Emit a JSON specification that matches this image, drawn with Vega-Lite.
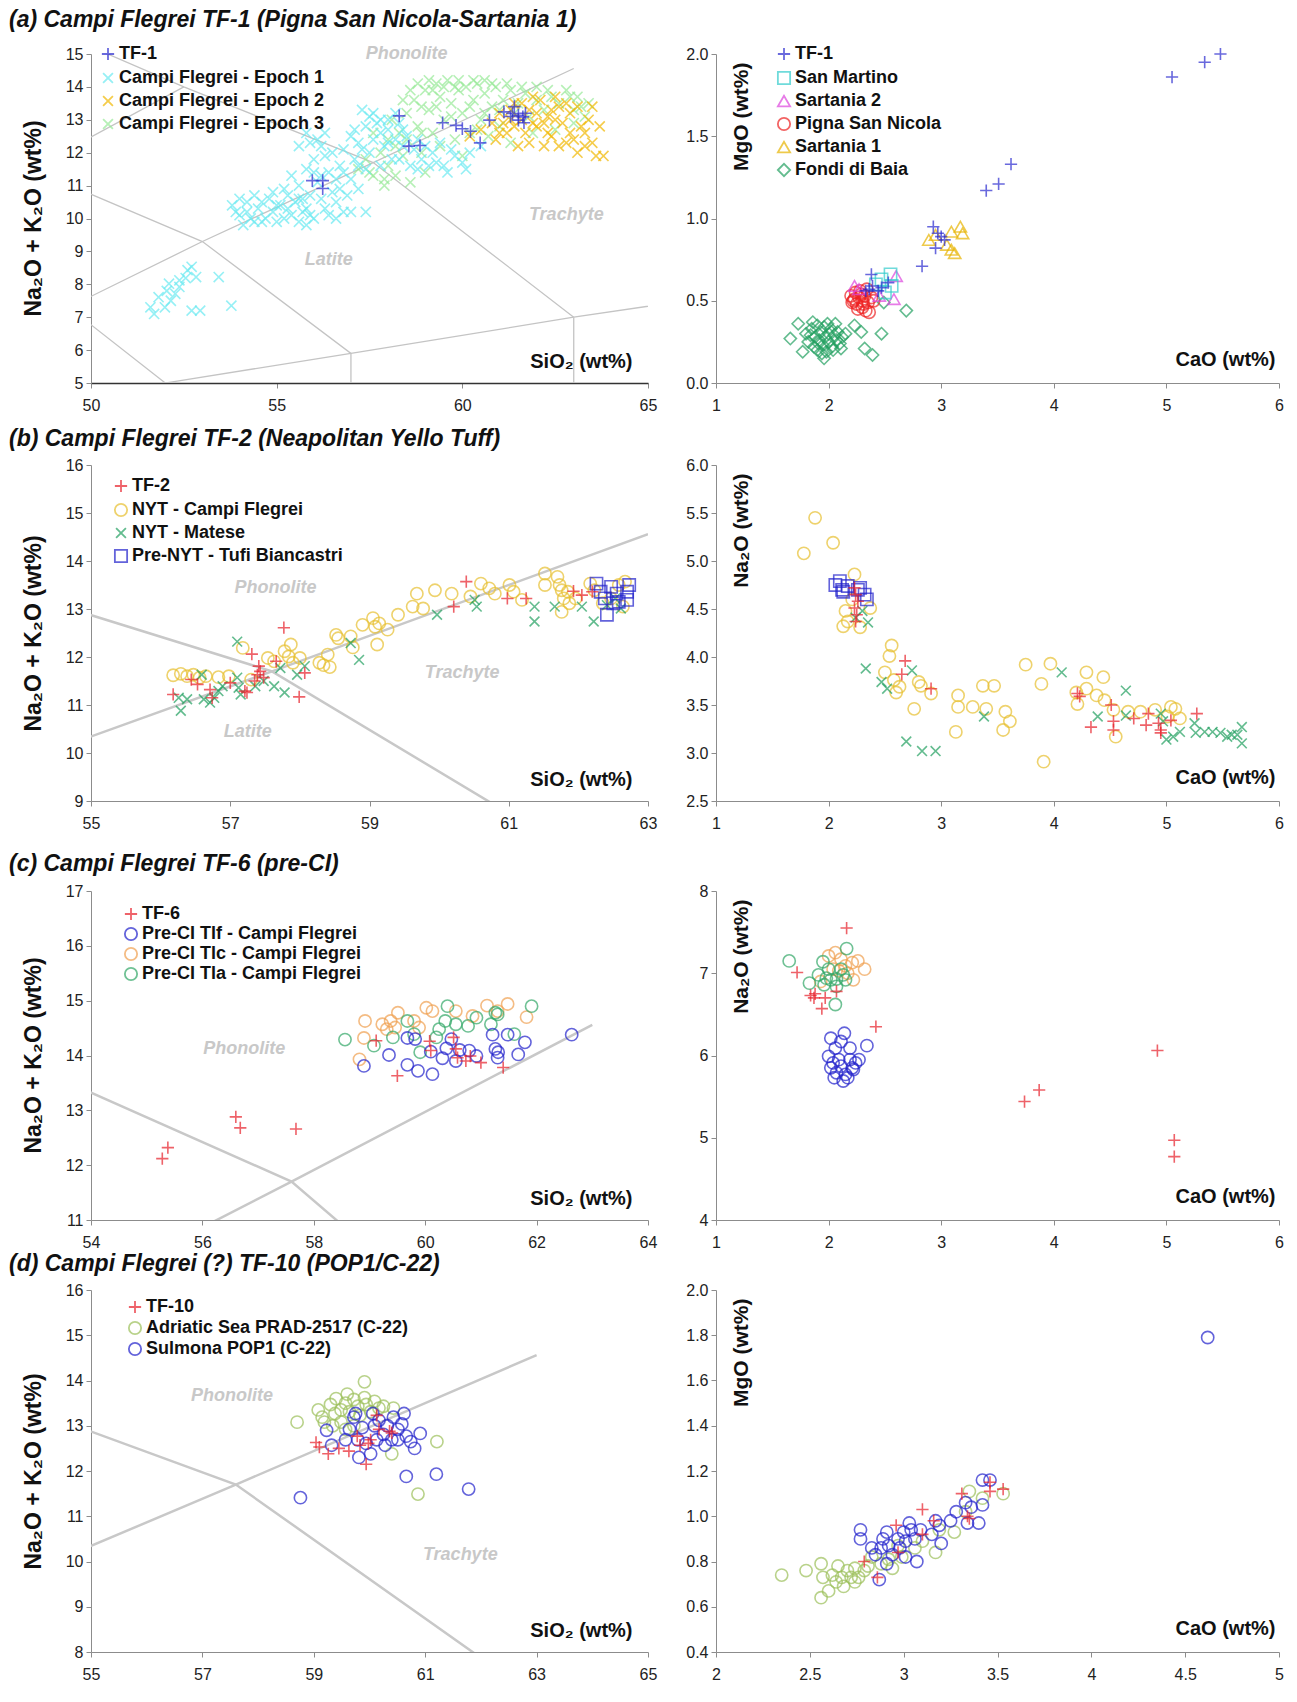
{
"$schema": "https://vega.github.io/schema/vega-lite/v6.json",
"padding": {"left": 9, "top": 8, "right": 5, "bottom": 5},
"config": {
  "font": "Liberation Sans",
  "view": {"stroke": null},
  "axis": {"grid": false, "domainColor": "#8c8c8c", "tickColor": "#8c8c8c", "tickSize": 5, "labelFontSize": 16, "labelColor": "#222", "labelFlush": false, "labelOverlap": false, "labelBound": false, "labelPadding": 3, "titleFontSize": 20, "titleFontWeight": "bold", "titleColor": "#111"},
  "axisX": {"labelPadding": 9},
  "legend": {"labelFontSize": 18, "labelFontWeight": "bold", "labelColor": "#111", "labelLimit": 400, "symbolStrokeWidth": 1.8, "symbolSize": 150, "labelOffset": 2, "padding": 0},
  "title": {"fontSize": 23, "fontWeight": "bold", "fontStyle": "italic", "color": "#111", "anchor": "start", "frame": "group"}
},
"datasets": {
  "tas": [
    {"seg":1,"o":1,"x":41,"y":7},{"seg":1,"o":2,"x":45,"y":9.4},{"seg":1,"o":3,"x":48.4,"y":11.5},{"seg":1,"o":4,"x":52.5,"y":14},
    {"seg":2,"o":1,"x":48.4,"y":16},{"seg":2,"o":2,"x":52.5,"y":14},{"seg":2,"o":3,"x":57.6,"y":11.7},{"seg":2,"o":4,"x":63,"y":7},
    {"seg":3,"o":1,"x":45,"y":5},{"seg":3,"o":2,"x":49.4,"y":7.3},{"seg":3,"o":3,"x":53,"y":9.3},{"seg":3,"o":4,"x":57.6,"y":11.7},{"seg":3,"o":5,"x":63,"y":14.56},
    {"seg":4,"o":1,"x":45,"y":9.4},{"seg":4,"o":2,"x":49.4,"y":7.3},{"seg":4,"o":3,"x":52,"y":5},
    {"seg":5,"o":1,"x":48.4,"y":11.5},{"seg":5,"o":2,"x":53,"y":9.3},{"seg":5,"o":3,"x":57,"y":5.9},{"seg":5,"o":4,"x":57,"y":0},
    {"seg":6,"o":1,"x":52,"y":0},{"seg":6,"o":2,"x":52,"y":5},{"seg":6,"o":3,"x":57,"y":5.9},{"seg":6,"o":4,"x":63,"y":7},{"seg":6,"o":5,"x":69,"y":8},
    {"seg":7,"o":1,"x":63,"y":0},{"seg":7,"o":2,"x":63,"y":7}
  ]
},
"vconcat": [
 {
  "title": {"text": "(a) Campi Flegrei TF-1 (Pigna San Nicola-Sartania 1)", "dx": -82, "offset": 13},
  "spacing": 68, "bounds": "flush",
  "resolve": {"scale": {"x": "independent", "y": "independent", "color": "independent", "shape": "independent"}},
  "hconcat": [
   {
    "width": 557, "height": 329,
    "encoding": {
      "x": {"field": "x", "type": "quantitative", "scale": {"domain": [50, 65], "nice": false, "zero": false}, "axis": {"values": [50,55,60,65], "format": "d", "domainColor": "#333", "domainWidth": 1.5, "title": "SiO₂ (wt%)", "titleX": 541, "titleY": -22, "titleAlign": "right", "titleBaseline": "middle"}},
      "y": {"field": "y", "type": "quantitative", "scale": {"domain": [5, 15], "nice": false, "zero": false}, "axis": {"values": [5,6,7,8,9,10,11,12,13,14,15], "format": "d", "title": "Na₂O + K₂O (wt%)", "titleFontSize": 23, "titleX": -58, "titleY": 164, "titleAngle": 270, "titleAlign": "center", "titleBaseline": "middle"}}
    },
    "layer": [
     {"data": {"name": "tas"}, "mark": {"type": "line", "clip": true, "color": "#c4c4c4", "strokeWidth": 1.3}, "encoding": {"detail": {"field": "seg"}, "order": {"field": "o", "type": "quantitative"}}},
     {"data": {"values": [{"label": "Phonolite", "x": 58.5, "y": 15.0}, {"label": "Trachyte", "x": 62.8, "y": 10.1}, {"label": "Latite", "x": 56.4, "y": 8.75}]},
      "mark": {"type": "text", "color": "#c8c8c8", "fontSize": 18, "fontStyle": "italic", "fontWeight": "bold"}, "encoding": {"text": {"field": "label"}}},
     {"data": {"values": [
{"s":"Campi Flegrei - Epoch 3","x":57.2,"y":11.5},{"s":"Campi Flegrei - Epoch 3","x":57.4,"y":11.8},{"s":"Campi Flegrei - Epoch 3","x":57.6,"y":11.3},{"s":"Campi Flegrei - Epoch 3","x":57.8,"y":12.0},{"s":"Campi Flegrei - Epoch 3","x":58.0,"y":11.6},{"s":"Campi Flegrei - Epoch 3","x":57.9,"y":11.2},{"s":"Campi Flegrei - Epoch 3","x":58.2,"y":12.2},{"s":"Campi Flegrei - Epoch 3","x":58.4,"y":11.9},{"s":"Campi Flegrei - Epoch 3","x":58.3,"y":12.6},{"s":"Campi Flegrei - Epoch 3","x":58.5,"y":13.2},{"s":"Campi Flegrei - Epoch 3","x":58.7,"y":13.6},{"s":"Campi Flegrei - Epoch 3","x":58.8,"y":12.8},{"s":"Campi Flegrei - Epoch 3","x":59.0,"y":13.9},{"s":"Campi Flegrei - Epoch 3","x":59.1,"y":13.3},{"s":"Campi Flegrei - Epoch 3","x":59.2,"y":12.6},{"s":"Campi Flegrei - Epoch 3","x":59.3,"y":14.1},{"s":"Campi Flegrei - Epoch 3","x":59.4,"y":13.7},{"s":"Campi Flegrei - Epoch 3","x":59.5,"y":13.0},{"s":"Campi Flegrei - Epoch 3","x":59.6,"y":14.2},{"s":"Campi Flegrei - Epoch 3","x":59.7,"y":13.5},{"s":"Campi Flegrei - Epoch 3","x":59.8,"y":12.4},{"s":"Campi Flegrei - Epoch 3","x":59.9,"y":13.9},{"s":"Campi Flegrei - Epoch 3","x":60.0,"y":13.2},{"s":"Campi Flegrei - Epoch 3","x":60.1,"y":14.0},{"s":"Campi Flegrei - Epoch 3","x":60.2,"y":12.6},{"s":"Campi Flegrei - Epoch 3","x":60.3,"y":13.6},{"s":"Campi Flegrei - Epoch 3","x":60.4,"y":14.1},{"s":"Campi Flegrei - Epoch 3","x":60.5,"y":13.0},{"s":"Campi Flegrei - Epoch 3","x":60.6,"y":13.8},{"s":"Campi Flegrei - Epoch 3","x":60.7,"y":12.5},{"s":"Campi Flegrei - Epoch 3","x":60.8,"y":13.4},{"s":"Campi Flegrei - Epoch 3","x":60.9,"y":14.0},{"s":"Campi Flegrei - Epoch 3","x":61.0,"y":12.8},{"s":"Campi Flegrei - Epoch 3","x":61.1,"y":13.6},{"s":"Campi Flegrei - Epoch 3","x":61.3,"y":13.9},{"s":"Campi Flegrei - Epoch 3","x":61.5,"y":13.5},{"s":"Campi Flegrei - Epoch 3","x":61.7,"y":13.8},{"s":"Campi Flegrei - Epoch 3","x":62.0,"y":13.6},{"s":"Campi Flegrei - Epoch 3","x":62.3,"y":13.9},{"s":"Campi Flegrei - Epoch 3","x":62.6,"y":13.5},{"s":"Campi Flegrei - Epoch 3","x":62.9,"y":13.7},{"s":"Campi Flegrei - Epoch 3","x":63.2,"y":13.4},{"s":"Campi Flegrei - Epoch 3","x":63.0,"y":12.9},{"s":"Campi Flegrei - Epoch 3","x":62.5,"y":12.7},{"s":"Campi Flegrei - Epoch 3","x":58.9,"y":12.0},{"s":"Campi Flegrei - Epoch 3","x":59.4,"y":12.2},{"s":"Campi Flegrei - Epoch 3","x":60.0,"y":11.9},{"s":"Campi Flegrei - Epoch 3","x":61.3,"y":12.3},{"s":"Campi Flegrei - Epoch 3","x":58.1,"y":13.0},{"s":"Campi Flegrei - Epoch 3","x":57.6,"y":12.6},{"s":"Campi Flegrei - Epoch 3","x":59.0,"y":11.4},{"s":"Campi Flegrei - Epoch 3","x":58.6,"y":11.1},{"s":"Campi Flegrei - Epoch 3","x":59.2,"y":13.9},{"s":"Campi Flegrei - Epoch 3","x":59.8,"y":14.0},{"s":"Campi Flegrei - Epoch 3","x":60.6,"y":14.2},{"s":"Campi Flegrei - Epoch 3","x":58.9,"y":13.4},{"s":"Campi Flegrei - Epoch 3","x":61.8,"y":13.1},{"s":"Campi Flegrei - Epoch 3","x":63.3,"y":13.1},{"s":"Campi Flegrei - Epoch 3","x":57.9,"y":11.0},{"s":"Campi Flegrei - Epoch 3","x":58.4,"y":13.6},
{"s":"Campi Flegrei - Epoch 3","x":58.6,"y":13.9},{"s":"Campi Flegrei - Epoch 3","x":58.8,"y":14.1},{"s":"Campi Flegrei - Epoch 3","x":59.1,"y":14.2},{"s":"Campi Flegrei - Epoch 3","x":59.5,"y":14.0},{"s":"Campi Flegrei - Epoch 3","x":59.9,"y":14.2},{"s":"Campi Flegrei - Epoch 3","x":60.3,"y":14.2},{"s":"Campi Flegrei - Epoch 3","x":60.8,"y":14.1},{"s":"Campi Flegrei - Epoch 3","x":61.2,"y":14.1},{"s":"Campi Flegrei - Epoch 3","x":61.6,"y":14.0},{"s":"Campi Flegrei - Epoch 3","x":62.0,"y":14.0},{"s":"Campi Flegrei - Epoch 3","x":62.4,"y":13.7},{"s":"Campi Flegrei - Epoch 3","x":62.8,"y":13.9},{"s":"Campi Flegrei - Epoch 3","x":63.1,"y":13.7},{"s":"Campi Flegrei - Epoch 3","x":63.4,"y":13.5},{"s":"Campi Flegrei - Epoch 3","x":59.3,"y":13.4},{"s":"Campi Flegrei - Epoch 3","x":59.7,"y":13.1},{"s":"Campi Flegrei - Epoch 3","x":60.2,"y":13.4},{"s":"Campi Flegrei - Epoch 3","x":60.6,"y":13.2},{"s":"Campi Flegrei - Epoch 3","x":61.0,"y":13.3},{"s":"Campi Flegrei - Epoch 3","x":61.4,"y":13.2},{"s":"Campi Flegrei - Epoch 3","x":58.5,"y":12.4},{"s":"Campi Flegrei - Epoch 3","x":58.9,"y":12.6},{"s":"Campi Flegrei - Epoch 3","x":60.4,"y":12.7},{"s":"Campi Flegrei - Epoch 3","x":61.9,"y":12.6},{"s":"Campi Flegrei - Epoch 3","x":62.2,"y":13.3},{"s":"Campi Flegrei - Epoch 3","x":63.0,"y":13.3},{"s":"Campi Flegrei - Epoch 3","x":58.0,"y":12.4},{"s":"Campi Flegrei - Epoch 3","x":57.5,"y":11.4},{"s":"Campi Flegrei - Epoch 3","x":58.2,"y":11.3},
{"s":"Campi Flegrei - Epoch 1","x":51.82,"y":7.61},{"s":"Campi Flegrei - Epoch 1","x":52.1,"y":8.02},{"s":"Campi Flegrei - Epoch 1","x":52.38,"y":8.12},{"s":"Campi Flegrei - Epoch 1","x":52.6,"y":8.43},{"s":"Campi Flegrei - Epoch 1","x":52.71,"y":8.53},{"s":"Campi Flegrei - Epoch 1","x":52.83,"y":8.22},{"s":"Campi Flegrei - Epoch 1","x":52.27,"y":7.71},{"s":"Campi Flegrei - Epoch 1","x":51.99,"y":7.3},{"s":"Campi Flegrei - Epoch 1","x":51.7,"y":7.1},{"s":"Campi Flegrei - Epoch 1","x":52.71,"y":7.2},{"s":"Campi Flegrei - Epoch 1","x":52.94,"y":7.2},{"s":"Campi Flegrei - Epoch 1","x":53.44,"y":8.22},{"s":"Campi Flegrei - Epoch 1","x":53.78,"y":7.35},{"s":"Campi Flegrei - Epoch 1","x":52.38,"y":7.92},{"s":"Campi Flegrei - Epoch 1","x":52.15,"y":7.5},{"s":"Campi Flegrei - Epoch 1","x":52.55,"y":8.19},{"s":"Campi Flegrei - Epoch 1","x":52.04,"y":7.8},{"s":"Campi Flegrei - Epoch 1","x":51.6,"y":7.3},
{"s":"Campi Flegrei - Epoch 1","x":53.8,"y":10.4},{"s":"Campi Flegrei - Epoch 1","x":54.0,"y":10.1},{"s":"Campi Flegrei - Epoch 1","x":54.2,"y":10.5},{"s":"Campi Flegrei - Epoch 1","x":54.3,"y":10.0},{"s":"Campi Flegrei - Epoch 1","x":54.5,"y":10.3},{"s":"Campi Flegrei - Epoch 1","x":54.6,"y":9.9},{"s":"Campi Flegrei - Epoch 1","x":54.8,"y":10.6},{"s":"Campi Flegrei - Epoch 1","x":54.9,"y":10.2},{"s":"Campi Flegrei - Epoch 1","x":55.0,"y":9.9},{"s":"Campi Flegrei - Epoch 1","x":55.1,"y":10.4},{"s":"Campi Flegrei - Epoch 1","x":55.3,"y":10.7},{"s":"Campi Flegrei - Epoch 1","x":55.4,"y":10.1},{"s":"Campi Flegrei - Epoch 1","x":55.5,"y":10.5},{"s":"Campi Flegrei - Epoch 1","x":55.6,"y":9.9},{"s":"Campi Flegrei - Epoch 1","x":55.8,"y":10.3},{"s":"Campi Flegrei - Epoch 1","x":55.9,"y":10.7},{"s":"Campi Flegrei - Epoch 1","x":56.0,"y":10.0},{"s":"Campi Flegrei - Epoch 1","x":54.4,"y":10.7},{"s":"Campi Flegrei - Epoch 1","x":55.2,"y":10.9},{"s":"Campi Flegrei - Epoch 1","x":54.1,"y":9.8},{"s":"Campi Flegrei - Epoch 1","x":53.9,"y":10.2},{"s":"Campi Flegrei - Epoch 1","x":56.3,"y":10.3},{"s":"Campi Flegrei - Epoch 1","x":56.6,"y":10.5},{"s":"Campi Flegrei - Epoch 1","x":56.8,"y":10.2},{"s":"Campi Flegrei - Epoch 1","x":54.7,"y":10.0},{"s":"Campi Flegrei - Epoch 1","x":55.7,"y":10.2},
{"s":"Campi Flegrei - Epoch 1","x":54.2,"y":10.2},{"s":"Campi Flegrei - Epoch 1","x":54.4,"y":9.9},{"s":"Campi Flegrei - Epoch 1","x":54.6,"y":10.5},{"s":"Campi Flegrei - Epoch 1","x":54.9,"y":10.8},{"s":"Campi Flegrei - Epoch 1","x":55.2,"y":10.0},{"s":"Campi Flegrei - Epoch 1","x":55.3,"y":10.3},{"s":"Campi Flegrei - Epoch 1","x":55.6,"y":10.6},{"s":"Campi Flegrei - Epoch 1","x":55.9,"y":10.1},{"s":"Campi Flegrei - Epoch 1","x":56.2,"y":10.6},{"s":"Campi Flegrei - Epoch 1","x":54.0,"y":10.6},{"s":"Campi Flegrei - Epoch 1","x":55.0,"y":10.4},{"s":"Campi Flegrei - Epoch 1","x":55.8,"y":9.8},{"s":"Campi Flegrei - Epoch 1","x":56.4,"y":10.1},{"s":"Campi Flegrei - Epoch 1","x":56.2,"y":11.3},{"s":"Campi Flegrei - Epoch 1","x":56.7,"y":10.9},
{"s":"Campi Flegrei - Epoch 1","x":55.6,"y":11.0},{"s":"Campi Flegrei - Epoch 1","x":55.8,"y":11.5},{"s":"Campi Flegrei - Epoch 1","x":56.0,"y":11.8},{"s":"Campi Flegrei - Epoch 1","x":56.2,"y":12.2},{"s":"Campi Flegrei - Epoch 1","x":56.4,"y":11.4},{"s":"Campi Flegrei - Epoch 1","x":56.5,"y":10.8},{"s":"Campi Flegrei - Epoch 1","x":56.7,"y":11.6},{"s":"Campi Flegrei - Epoch 1","x":56.8,"y":12.1},{"s":"Campi Flegrei - Epoch 1","x":57.0,"y":11.2},{"s":"Campi Flegrei - Epoch 1","x":57.1,"y":11.8},{"s":"Campi Flegrei - Epoch 1","x":56.3,"y":11.9},{"s":"Campi Flegrei - Epoch 1","x":55.9,"y":12.3},{"s":"Campi Flegrei - Epoch 1","x":56.1,"y":12.4},{"s":"Campi Flegrei - Epoch 1","x":56.6,"y":11.2},{"s":"Campi Flegrei - Epoch 1","x":57.2,"y":10.9},{"s":"Campi Flegrei - Epoch 1","x":57.4,"y":11.5},{"s":"Campi Flegrei - Epoch 1","x":55.7,"y":10.6},{"s":"Campi Flegrei - Epoch 1","x":56.9,"y":10.7},{"s":"Campi Flegrei - Epoch 1","x":56.1,"y":11.1},{"s":"Campi Flegrei - Epoch 1","x":55.4,"y":11.3},
{"s":"Campi Flegrei - Epoch 1","x":56.0,"y":11.4},{"s":"Campi Flegrei - Epoch 1","x":56.3,"y":12.6},{"s":"Campi Flegrei - Epoch 1","x":56.5,"y":12.0},{"s":"Campi Flegrei - Epoch 1","x":56.8,"y":11.4},{"s":"Campi Flegrei - Epoch 1","x":57.0,"y":12.5},{"s":"Campi Flegrei - Epoch 1","x":57.2,"y":11.6},{"s":"Campi Flegrei - Epoch 1","x":57.3,"y":12.1},{"s":"Campi Flegrei - Epoch 1","x":57.6,"y":12.4},{"s":"Campi Flegrei - Epoch 1","x":57.8,"y":13.0},{"s":"Campi Flegrei - Epoch 1","x":58.0,"y":12.7},{"s":"Campi Flegrei - Epoch 1","x":58.2,"y":13.2},{"s":"Campi Flegrei - Epoch 1","x":58.4,"y":12.2},{"s":"Campi Flegrei - Epoch 1","x":57.5,"y":13.1},{"s":"Campi Flegrei - Epoch 1","x":57.8,"y":11.6},{"s":"Campi Flegrei - Epoch 1","x":58.3,"y":11.8},{"s":"Campi Flegrei - Epoch 1","x":58.4,"y":12.7},{"s":"Campi Flegrei - Epoch 1","x":58.8,"y":12.4},{"s":"Campi Flegrei - Epoch 1","x":59.0,"y":12.2},{"s":"Campi Flegrei - Epoch 1","x":59.3,"y":11.7},{"s":"Campi Flegrei - Epoch 1","x":59.7,"y":12.1},{"s":"Campi Flegrei - Epoch 1","x":60.1,"y":11.5},{"s":"Campi Flegrei - Epoch 1","x":59.1,"y":11.6},{"s":"Campi Flegrei - Epoch 1","x":57.4,"y":10.2},{"s":"Campi Flegrei - Epoch 1","x":57.0,"y":10.2},{"s":"Campi Flegrei - Epoch 1","x":56.6,"y":10.0},{"s":"Campi Flegrei - Epoch 1","x":55.6,"y":12.2},{"s":"Campi Flegrei - Epoch 1","x":55.8,"y":12.6},
{"s":"Campi Flegrei - Epoch 1","x":57.2,"y":12.3},{"s":"Campi Flegrei - Epoch 1","x":57.4,"y":12.8},{"s":"Campi Flegrei - Epoch 1","x":57.6,"y":13.2},{"s":"Campi Flegrei - Epoch 1","x":57.8,"y":12.6},{"s":"Campi Flegrei - Epoch 1","x":58.0,"y":13.0},{"s":"Campi Flegrei - Epoch 1","x":58.2,"y":12.4},{"s":"Campi Flegrei - Epoch 1","x":58.3,"y":12.9},{"s":"Campi Flegrei - Epoch 1","x":57.5,"y":12.0},{"s":"Campi Flegrei - Epoch 1","x":58.5,"y":12.5},{"s":"Campi Flegrei - Epoch 1","x":58.7,"y":12.1},{"s":"Campi Flegrei - Epoch 1","x":57.3,"y":13.3},{"s":"Campi Flegrei - Epoch 1","x":57.9,"y":12.2},{"s":"Campi Flegrei - Epoch 1","x":58.1,"y":11.8},{"s":"Campi Flegrei - Epoch 1","x":58.6,"y":11.6},{"s":"Campi Flegrei - Epoch 1","x":57.7,"y":12.9},{"s":"Campi Flegrei - Epoch 1","x":58.0,"y":12.3},{"s":"Campi Flegrei - Epoch 1","x":57.1,"y":12.7},
{"s":"Campi Flegrei - Epoch 1","x":58.9,"y":11.8},{"s":"Campi Flegrei - Epoch 1","x":59.2,"y":12.0},{"s":"Campi Flegrei - Epoch 1","x":59.5,"y":11.6},{"s":"Campi Flegrei - Epoch 1","x":59.8,"y":11.9},{"s":"Campi Flegrei - Epoch 1","x":60.0,"y":11.7},{"s":"Campi Flegrei - Epoch 1","x":59.4,"y":12.3},{"s":"Campi Flegrei - Epoch 1","x":58.8,"y":11.5},{"s":"Campi Flegrei - Epoch 1","x":60.2,"y":12.0},{"s":"Campi Flegrei - Epoch 1","x":59.6,"y":11.4},{"s":"Campi Flegrei - Epoch 1","x":60.5,"y":12.2},
{"s":"Campi Flegrei - Epoch 2","x":60.8,"y":12.9},{"s":"Campi Flegrei - Epoch 2","x":61.0,"y":13.2},{"s":"Campi Flegrei - Epoch 2","x":61.2,"y":12.6},{"s":"Campi Flegrei - Epoch 2","x":61.4,"y":13.5},{"s":"Campi Flegrei - Epoch 2","x":61.6,"y":13.0},{"s":"Campi Flegrei - Epoch 2","x":61.8,"y":13.3},{"s":"Campi Flegrei - Epoch 2","x":62.0,"y":12.8},{"s":"Campi Flegrei - Epoch 2","x":62.1,"y":13.6},{"s":"Campi Flegrei - Epoch 2","x":62.3,"y":13.1},{"s":"Campi Flegrei - Epoch 2","x":62.4,"y":12.5},{"s":"Campi Flegrei - Epoch 2","x":62.6,"y":13.4},{"s":"Campi Flegrei - Epoch 2","x":62.7,"y":12.9},{"s":"Campi Flegrei - Epoch 2","x":62.9,"y":13.2},{"s":"Campi Flegrei - Epoch 2","x":63.0,"y":12.4},{"s":"Campi Flegrei - Epoch 2","x":63.1,"y":12.0},{"s":"Campi Flegrei - Epoch 2","x":63.3,"y":12.6},{"s":"Campi Flegrei - Epoch 2","x":63.4,"y":13.0},{"s":"Campi Flegrei - Epoch 2","x":63.6,"y":11.9},{"s":"Campi Flegrei - Epoch 2","x":63.8,"y":11.9},{"s":"Campi Flegrei - Epoch 2","x":62.2,"y":12.2},{"s":"Campi Flegrei - Epoch 2","x":61.5,"y":12.2},{"s":"Campi Flegrei - Epoch 2","x":61.9,"y":13.7},{"s":"Campi Flegrei - Epoch 2","x":62.5,"y":13.7},{"s":"Campi Flegrei - Epoch 2","x":60.5,"y":12.7},{"s":"Campi Flegrei - Epoch 2","x":60.2,"y":12.5},{"s":"Campi Flegrei - Epoch 2","x":63.5,"y":13.4},{"s":"Campi Flegrei - Epoch 2","x":62.8,"y":12.3},{"s":"Campi Flegrei - Epoch 2","x":61.1,"y":12.9},{"s":"Campi Flegrei - Epoch 2","x":61.7,"y":12.6},{"s":"Campi Flegrei - Epoch 2","x":62.4,"y":13.3},{"s":"Campi Flegrei - Epoch 2","x":61.3,"y":13.0},{"s":"Campi Flegrei - Epoch 2","x":62.0,"y":13.2},
{"s":"Campi Flegrei - Epoch 2","x":61.0,"y":12.6},{"s":"Campi Flegrei - Epoch 2","x":61.3,"y":13.3},{"s":"Campi Flegrei - Epoch 2","x":61.6,"y":13.5},{"s":"Campi Flegrei - Epoch 2","x":61.9,"y":12.9},{"s":"Campi Flegrei - Epoch 2","x":62.2,"y":12.9},{"s":"Campi Flegrei - Epoch 2","x":62.5,"y":13.0},{"s":"Campi Flegrei - Epoch 2","x":62.8,"y":13.5},{"s":"Campi Flegrei - Epoch 2","x":63.1,"y":13.4},{"s":"Campi Flegrei - Epoch 2","x":63.2,"y":12.8},{"s":"Campi Flegrei - Epoch 2","x":63.5,"y":12.3},{"s":"Campi Flegrei - Epoch 2","x":63.7,"y":12.8},{"s":"Campi Flegrei - Epoch 2","x":62.9,"y":12.6},{"s":"Campi Flegrei - Epoch 2","x":62.6,"y":12.2},{"s":"Campi Flegrei - Epoch 2","x":62.3,"y":12.6},{"s":"Campi Flegrei - Epoch 2","x":61.8,"y":12.3},{"s":"Campi Flegrei - Epoch 2","x":61.4,"y":12.8},{"s":"Campi Flegrei - Epoch 2","x":60.9,"y":12.4},{"s":"Campi Flegrei - Epoch 2","x":63.3,"y":12.2},
{"s":"TF-1","x":55.96,"y":11.15},{"s":"TF-1","x":56.24,"y":11.15},{"s":"TF-1","x":56.24,"y":10.91},{"s":"TF-1","x":58.3,"y":13.12},{"s":"TF-1","x":58.56,"y":12.2},{"s":"TF-1","x":58.86,"y":12.22},{"s":"TF-1","x":59.47,"y":12.91},{"s":"TF-1","x":59.83,"y":12.83},{"s":"TF-1","x":60.0,"y":12.73},{"s":"TF-1","x":60.22,"y":12.65},{"s":"TF-1","x":60.48,"y":12.3},{"s":"TF-1","x":60.73,"y":12.99},{"s":"TF-1","x":61.12,"y":13.24},{"s":"TF-1","x":61.35,"y":13.19},{"s":"TF-1","x":61.51,"y":13.14},{"s":"TF-1","x":61.63,"y":13.09},{"s":"TF-1","x":61.51,"y":12.99},{"s":"TF-1","x":61.66,"y":12.91},{"s":"TF-1","x":61.4,"y":13.4},{"s":"TF-1","x":61.3,"y":13.1},{"s":"TF-1","x":61.7,"y":13.2}
      ]},
      "mark": {"type": "point", "filled": false, "strokeWidth": 1.6, "size": 160},
      "encoding": {
        "color": {"field": "s", "type": "nominal", "scale": {"domain": ["TF-1","Campi Flegrei - Epoch 1","Campi Flegrei - Epoch 2","Campi Flegrei - Epoch 3"], "range": ["#2a2ad0","#6aeaf2","#f2b800","#98ea98"]}, "legend": {"title": null, "orient": "none", "legendX": 8, "legendY": -9, "rowPadding": 5}},
        "shape": {"field": "s", "type": "nominal", "scale": {"domain": ["TF-1","Campi Flegrei - Epoch 1","Campi Flegrei - Epoch 2","Campi Flegrei - Epoch 3"], "range": ["M-1,0L1,0M0,-1L0,1","M-0.8,-0.8L0.8,0.8M-0.8,0.8L0.8,-0.8","M-0.8,-0.8L0.8,0.8M-0.8,0.8L0.8,-0.8","M-0.8,-0.8L0.8,0.8M-0.8,0.8L0.8,-0.8"]}, "legend": {"title": null, "orient": "none", "legendX": 8, "legendY": -9, "rowPadding": 5}}
      }
     }
    ]
   },
   {
    "width": 563, "height": 329,
    "encoding": {
      "x": {"field": "x", "type": "quantitative", "scale": {"domain": [1, 6], "nice": false, "zero": false}, "axis": {"values": [1,2,3,4,5,6], "format": "d", "title": "CaO (wt%)", "titleX": 559, "titleY": -24, "titleAlign": "right", "titleBaseline": "middle"}},
      "y": {"field": "y", "type": "quantitative", "scale": {"domain": [0, 2], "nice": false, "zero": false}, "axis": {"values": [0,0.5,1,1.5,2], "format": ".1f", "title": "MgO (wt%)", "titleFontSize": 21, "titleX": 25, "titleY": 8, "titleAngle": 270, "titleAlign": "right", "titleBaseline": "middle"}}
    },
    "layer": [
     {"data": {"values": [
{"s":"Fondi di Baia","x":1.8,"y":0.3},{"s":"Fondi di Baia","x":1.82,"y":0.25},{"s":"Fondi di Baia","x":1.85,"y":0.33},{"s":"Fondi di Baia","x":1.87,"y":0.22},{"s":"Fondi di Baia","x":1.88,"y":0.28},{"s":"Fondi di Baia","x":1.9,"y":0.35},{"s":"Fondi di Baia","x":1.9,"y":0.2},{"s":"Fondi di Baia","x":1.92,"y":0.26},{"s":"Fondi di Baia","x":1.93,"y":0.31},{"s":"Fondi di Baia","x":1.95,"y":0.23},{"s":"Fondi di Baia","x":1.96,"y":0.34},{"s":"Fondi di Baia","x":1.97,"y":0.28},{"s":"Fondi di Baia","x":1.98,"y":0.19},{"s":"Fondi di Baia","x":2.0,"y":0.3},{"s":"Fondi di Baia","x":2.0,"y":0.25},{"s":"Fondi di Baia","x":2.02,"y":0.33},{"s":"Fondi di Baia","x":2.03,"y":0.22},{"s":"Fondi di Baia","x":2.05,"y":0.29},{"s":"Fondi di Baia","x":2.06,"y":0.36},{"s":"Fondi di Baia","x":2.07,"y":0.26},{"s":"Fondi di Baia","x":2.08,"y":0.31},{"s":"Fondi di Baia","x":2.1,"y":0.24},{"s":"Fondi di Baia","x":2.12,"y":0.28},{"s":"Fondi di Baia","x":1.86,"y":0.37},{"s":"Fondi di Baia","x":1.94,"y":0.18},{"s":"Fondi di Baia","x":2.04,"y":0.2},{"s":"Fondi di Baia","x":1.84,"y":0.29},{"s":"Fondi di Baia","x":2.15,"y":0.3},{"s":"Fondi di Baia","x":2.11,"y":0.21},{"s":"Fondi di Baia","x":1.91,"y":0.24},{"s":"Fondi di Baia","x":1.99,"y":0.36},{"s":"Fondi di Baia","x":1.66,"y":0.27},{"s":"Fondi di Baia","x":1.73,"y":0.36},{"s":"Fondi di Baia","x":1.77,"y":0.19},{"s":"Fondi di Baia","x":1.96,"y":0.15},{"s":"Fondi di Baia","x":2.23,"y":0.35},{"s":"Fondi di Baia","x":2.29,"y":0.31},{"s":"Fondi di Baia","x":2.47,"y":0.3},{"s":"Fondi di Baia","x":2.32,"y":0.21},{"s":"Fondi di Baia","x":2.39,"y":0.17},{"s":"Fondi di Baia","x":2.69,"y":0.44},{"s":"Fondi di Baia","x":2.49,"y":0.49},
{"s":"Sartania 1","x":3.17,"y":0.95},{"s":"Sartania 1","x":3.19,"y":0.91},{"s":"Sartania 1","x":3.09,"y":0.92},{"s":"Sartania 1","x":2.89,"y":0.87},{"s":"Sartania 1","x":3.09,"y":0.81},{"s":"Sartania 1","x":3.12,"y":0.79},{"s":"Sartania 1","x":2.95,"y":0.9},{"s":"Sartania 1","x":3.05,"y":0.84},
{"s":"Pigna San Nicola","x":2.2,"y":0.53},{"s":"Pigna San Nicola","x":2.22,"y":0.5},{"s":"Pigna San Nicola","x":2.24,"y":0.55},{"s":"Pigna San Nicola","x":2.25,"y":0.48},{"s":"Pigna San Nicola","x":2.27,"y":0.52},{"s":"Pigna San Nicola","x":2.28,"y":0.56},{"s":"Pigna San Nicola","x":2.3,"y":0.5},{"s":"Pigna San Nicola","x":2.3,"y":0.46},{"s":"Pigna San Nicola","x":2.32,"y":0.53},{"s":"Pigna San Nicola","x":2.33,"y":0.44},{"s":"Pigna San Nicola","x":2.35,"y":0.49},{"s":"Pigna San Nicola","x":2.36,"y":0.43},{"s":"Pigna San Nicola","x":2.38,"y":0.52},{"s":"Pigna San Nicola","x":2.26,"y":0.45},{"s":"Pigna San Nicola","x":2.21,"y":0.49},{"s":"Pigna San Nicola","x":2.29,"y":0.54},{"s":"Pigna San Nicola","x":2.4,"y":0.5},{"s":"Pigna San Nicola","x":2.34,"y":0.57},{"s":"Pigna San Nicola","x":2.31,"y":0.48},{"s":"Pigna San Nicola","x":2.23,"y":0.51},
{"s":"Sartania 2","x":2.6,"y":0.65},{"s":"Sartania 2","x":2.58,"y":0.51},{"s":"Sartania 2","x":2.23,"y":0.59},{"s":"Sartania 2","x":2.27,"y":0.57},{"s":"Sartania 2","x":2.45,"y":0.53},
{"s":"San Martino","x":2.55,"y":0.66},{"s":"San Martino","x":2.56,"y":0.59},{"s":"San Martino","x":2.5,"y":0.55},{"s":"San Martino","x":2.42,"y":0.6},{"s":"San Martino","x":2.47,"y":0.63},
{"s":"TF-1","x":5.05,"y":1.86},{"s":"TF-1","x":5.34,"y":1.95},{"s":"TF-1","x":5.48,"y":2.0},{"s":"TF-1","x":3.62,"y":1.33},{"s":"TF-1","x":3.4,"y":1.17},{"s":"TF-1","x":3.51,"y":1.21},{"s":"TF-1","x":2.83,"y":0.71},{"s":"TF-1","x":2.93,"y":0.95},{"s":"TF-1","x":2.95,"y":0.82},{"s":"TF-1","x":3.0,"y":0.89},{"s":"TF-1","x":3.03,"y":0.87},{"s":"TF-1","x":2.97,"y":0.91},{"s":"TF-1","x":2.38,"y":0.66},{"s":"TF-1","x":2.39,"y":0.59},{"s":"TF-1","x":2.44,"y":0.56},{"s":"TF-1","x":2.53,"y":0.61},{"s":"TF-1","x":2.33,"y":0.56},{"s":"TF-1","x":2.47,"y":0.58},{"s":"TF-1","x":2.36,"y":0.57}
      ]},
      "mark": {"type": "point", "filled": false, "strokeWidth": 1.6, "size": 150},
      "encoding": {
        "color": {"field": "s", "type": "nominal", "scale": {"domain": ["TF-1","San Martino","Sartania 2","Pigna San Nicola","Sartania 1","Fondi di Baia"], "range": ["#2a2ad0","#33cccc","#dd44dd","#ee2222","#e8b400","#22a060"]}, "legend": {"title": null, "orient": "none", "legendX": 59, "legendY": -9, "rowPadding": 4}},
        "shape": {"field": "s", "type": "nominal", "scale": {"domain": ["TF-1","San Martino","Sartania 2","Pigna San Nicola","Sartania 1","Fondi di Baia"], "range": ["M-1,0L1,0M0,-1L0,1","square","triangle-up","circle","triangle-up","diamond"]}, "legend": {"title": null, "orient": "none", "legendX": 59, "legendY": -9, "rowPadding": 4}}
      }
     }
    ]
   }
  ]
 },
 {
  "spacing": 22,
  "resolve": {"scale": {"x": "independent", "y": "independent", "color": "independent", "shape": "independent"}},
  "vconcat": [
 {
  "title": {"text": "(b) Campi Flegrei TF-2 (Neapolitan Yello Tuff)", "dx": -82, "offset": 6},
  "spacing": 68, "bounds": "flush",
  "resolve": {"scale": {"x": "independent", "y": "independent", "color": "independent", "shape": "independent"}},
  "hconcat": [
   {
    "width": 557, "height": 336,
    "encoding": {
      "x": {"field": "x", "type": "quantitative", "scale": {"domain": [55, 63], "nice": false, "zero": false}, "axis": {"values": [55,57,59,61,63], "format": "d", "title": "SiO₂ (wt%)", "titleX": 541, "titleY": -22, "titleAlign": "right", "titleBaseline": "middle"}},
      "y": {"field": "y", "type": "quantitative", "scale": {"domain": [9, 16], "nice": false, "zero": false}, "axis": {"values": [9,10,11,12,13,14,15,16], "format": "d", "title": "Na₂O + K₂O (wt%)", "titleFontSize": 23, "titleX": -58, "titleY": 168, "titleAngle": 270, "titleAlign": "center", "titleBaseline": "middle"}}
    },
    "layer": [
     {"data": {"name": "tas"}, "mark": {"type": "line", "clip": true, "color": "#c8c8c8", "strokeWidth": 2.5}, "encoding": {"detail": {"field": "seg"}, "order": {"field": "o", "type": "quantitative"}}},
     {"data": {"values": [{"label": "Phonolite", "x": 57.65, "y": 13.43}, {"label": "Trachyte", "x": 60.33, "y": 11.67}, {"label": "Latite", "x": 57.25, "y": 10.43}]},
      "mark": {"type": "text", "color": "#c8c8c8", "fontSize": 18, "fontStyle": "italic", "fontWeight": "bold"}, "encoding": {"text": {"field": "label"}}},
     {"data": {"values": [
{"s":"NYT - Campi Flegrei","x":56.18,"y":11.62},{"s":"NYT - Campi Flegrei","x":56.29,"y":11.65},{"s":"NYT - Campi Flegrei","x":56.38,"y":11.6},{"s":"NYT - Campi Flegrei","x":56.47,"y":11.63},{"s":"NYT - Campi Flegrei","x":56.56,"y":11.57},{"s":"NYT - Campi Flegrei","x":56.65,"y":11.6},{"s":"NYT - Campi Flegrei","x":56.83,"y":11.58},{"s":"NYT - Campi Flegrei","x":56.98,"y":11.6},{"s":"NYT - Campi Flegrei","x":57.18,"y":12.19},{"s":"NYT - Campi Flegrei","x":57.3,"y":11.53},{"s":"NYT - Campi Flegrei","x":57.54,"y":11.98},{"s":"NYT - Campi Flegrei","x":57.63,"y":11.91},{"s":"NYT - Campi Flegrei","x":57.78,"y":12.12},{"s":"NYT - Campi Flegrei","x":57.84,"y":12.01},{"s":"NYT - Campi Flegrei","x":57.87,"y":12.26},{"s":"NYT - Campi Flegrei","x":57.9,"y":11.88},{"s":"NYT - Campi Flegrei","x":58.0,"y":11.98},{"s":"NYT - Campi Flegrei","x":58.28,"y":11.88},{"s":"NYT - Campi Flegrei","x":58.34,"y":11.83},{"s":"NYT - Campi Flegrei","x":58.4,"y":12.05},{"s":"NYT - Campi Flegrei","x":58.43,"y":11.79},{"s":"NYT - Campi Flegrei","x":58.52,"y":12.46},{"s":"NYT - Campi Flegrei","x":58.55,"y":12.39},{"s":"NYT - Campi Flegrei","x":58.73,"y":12.43},{"s":"NYT - Campi Flegrei","x":58.76,"y":12.2},{"s":"NYT - Campi Flegrei","x":58.9,"y":12.67},{"s":"NYT - Campi Flegrei","x":59.05,"y":12.81},{"s":"NYT - Campi Flegrei","x":59.08,"y":12.63},{"s":"NYT - Campi Flegrei","x":59.11,"y":12.26},{"s":"NYT - Campi Flegrei","x":59.14,"y":12.7},{"s":"NYT - Campi Flegrei","x":59.26,"y":12.57},{"s":"NYT - Campi Flegrei","x":59.41,"y":12.88},{"s":"NYT - Campi Flegrei","x":59.62,"y":13.05},{"s":"NYT - Campi Flegrei","x":59.68,"y":13.32},{"s":"NYT - Campi Flegrei","x":59.77,"y":13.01},{"s":"NYT - Campi Flegrei","x":59.94,"y":13.39},{"s":"NYT - Campi Flegrei","x":60.18,"y":13.32},{"s":"NYT - Campi Flegrei","x":60.45,"y":13.26},{"s":"NYT - Campi Flegrei","x":60.6,"y":13.53},{"s":"NYT - Campi Flegrei","x":60.72,"y":13.43},{"s":"NYT - Campi Flegrei","x":60.8,"y":13.32},{"s":"NYT - Campi Flegrei","x":61.01,"y":13.5},{"s":"NYT - Campi Flegrei","x":61.07,"y":13.36},{"s":"NYT - Campi Flegrei","x":61.19,"y":13.19},{"s":"NYT - Campi Flegrei","x":61.52,"y":13.5},{"s":"NYT - Campi Flegrei","x":61.52,"y":13.74},{"s":"NYT - Campi Flegrei","x":61.7,"y":13.67},{"s":"NYT - Campi Flegrei","x":61.73,"y":13.5},{"s":"NYT - Campi Flegrei","x":61.76,"y":13.39},{"s":"NYT - Campi Flegrei","x":61.79,"y":13.22},{"s":"NYT - Campi Flegrei","x":61.76,"y":12.94},{"s":"NYT - Campi Flegrei","x":61.85,"y":13.36},{"s":"NYT - Campi Flegrei","x":61.87,"y":13.12},{"s":"NYT - Campi Flegrei","x":61.96,"y":13.22},{"s":"NYT - Campi Flegrei","x":62.17,"y":13.53},{"s":"NYT - Campi Flegrei","x":62.23,"y":13.39},{"s":"NYT - Campi Flegrei","x":62.35,"y":13.12},{"s":"NYT - Campi Flegrei","x":62.47,"y":13.22},{"s":"NYT - Campi Flegrei","x":62.58,"y":13.5},{"s":"NYT - Campi Flegrei","x":62.67,"y":13.57},{"s":"NYT - Campi Flegrei","x":62.64,"y":13.05},
{"s":"NYT - Matese","x":56.26,"y":11.15},{"s":"NYT - Matese","x":56.38,"y":11.12},{"s":"NYT - Matese","x":56.29,"y":10.88},{"s":"NYT - Matese","x":56.59,"y":11.63},{"s":"NYT - Matese","x":56.62,"y":11.12},{"s":"NYT - Matese","x":56.71,"y":11.05},{"s":"NYT - Matese","x":56.77,"y":11.15},{"s":"NYT - Matese","x":56.83,"y":11.29},{"s":"NYT - Matese","x":56.89,"y":11.39},{"s":"NYT - Matese","x":57.1,"y":12.32},{"s":"NYT - Matese","x":57.1,"y":11.57},{"s":"NYT - Matese","x":57.12,"y":11.36},{"s":"NYT - Matese","x":57.15,"y":11.22},{"s":"NYT - Matese","x":57.36,"y":11.39},{"s":"NYT - Matese","x":57.48,"y":11.5},{"s":"NYT - Matese","x":57.63,"y":11.39},{"s":"NYT - Matese","x":57.78,"y":11.26},{"s":"NYT - Matese","x":57.72,"y":11.77},{"s":"NYT - Matese","x":57.96,"y":11.63},{"s":"NYT - Matese","x":58.07,"y":11.81},{"s":"NYT - Matese","x":58.73,"y":12.29},{"s":"NYT - Matese","x":58.85,"y":11.94},{"s":"NYT - Matese","x":59.97,"y":12.88},{"s":"NYT - Matese","x":60.51,"y":13.19},{"s":"NYT - Matese","x":60.54,"y":13.05},{"s":"NYT - Matese","x":61.37,"y":13.05},{"s":"NYT - Matese","x":61.37,"y":12.74},{"s":"NYT - Matese","x":61.66,"y":13.05},{"s":"NYT - Matese","x":62.05,"y":13.05},{"s":"NYT - Matese","x":62.22,"y":12.74},{"s":"NYT - Matese","x":62.41,"y":13.08},{"s":"NYT - Matese","x":62.53,"y":13.22},{"s":"NYT - Matese","x":62.61,"y":13.01},
{"s":"Pre-NYT - Tufi Biancastri","x":62.26,"y":13.53},{"s":"Pre-NYT - Tufi Biancastri","x":62.32,"y":13.36},{"s":"Pre-NYT - Tufi Biancastri","x":62.38,"y":13.22},{"s":"Pre-NYT - Tufi Biancastri","x":62.41,"y":12.88},{"s":"Pre-NYT - Tufi Biancastri","x":62.47,"y":13.46},{"s":"Pre-NYT - Tufi Biancastri","x":62.55,"y":13.32},{"s":"Pre-NYT - Tufi Biancastri","x":62.58,"y":13.15},{"s":"Pre-NYT - Tufi Biancastri","x":62.7,"y":13.36},{"s":"Pre-NYT - Tufi Biancastri","x":62.7,"y":13.19},{"s":"Pre-NYT - Tufi Biancastri","x":62.73,"y":13.5},{"s":"Pre-NYT - Tufi Biancastri","x":62.5,"y":13.12},
{"s":"TF-2","x":56.18,"y":11.22},{"s":"TF-2","x":56.44,"y":11.53},{"s":"TF-2","x":56.53,"y":11.43},{"s":"TF-2","x":56.71,"y":11.32},{"s":"TF-2","x":56.74,"y":11.15},{"s":"TF-2","x":57.0,"y":11.46},{"s":"TF-2","x":57.21,"y":11.29},{"s":"TF-2","x":57.24,"y":11.26},{"s":"TF-2","x":57.31,"y":12.06},{"s":"TF-2","x":57.35,"y":11.5},{"s":"TF-2","x":57.39,"y":11.63},{"s":"TF-2","x":57.41,"y":11.81},{"s":"TF-2","x":57.43,"y":11.7},{"s":"TF-2","x":57.48,"y":11.57},{"s":"TF-2","x":57.66,"y":11.91},{"s":"TF-2","x":57.77,"y":12.61},{"s":"TF-2","x":57.99,"y":11.17},{"s":"TF-2","x":58.07,"y":11.67},{"s":"TF-2","x":60.21,"y":13.05},{"s":"TF-2","x":60.39,"y":13.57},{"s":"TF-2","x":60.98,"y":13.22},{"s":"TF-2","x":61.25,"y":13.22},{"s":"TF-2","x":61.93,"y":13.37},{"s":"TF-2","x":62.05,"y":13.29},{"s":"TF-2","x":62.2,"y":13.36}
      ]},
      "mark": {"type": "point", "filled": false, "strokeWidth": 1.6, "size": 150},
      "encoding": {
        "color": {"field": "s", "type": "nominal", "scale": {"domain": ["TF-2","NYT - Campi Flegrei","NYT - Matese","Pre-NYT - Tufi Biancastri"], "range": ["#e8202a","#e8c030","#22a060","#2222cc"]}, "legend": {"title": null, "orient": "none", "legendX": 21, "legendY": 12, "rowPadding": 4}},
        "shape": {"field": "s", "type": "nominal", "scale": {"domain": ["TF-2","NYT - Campi Flegrei","NYT - Matese","Pre-NYT - Tufi Biancastri"], "range": ["M-1,0L1,0M0,-1L0,1","circle","M-0.8,-0.8L0.8,0.8M-0.8,0.8L0.8,-0.8","square"]}, "legend": {"title": null, "orient": "none", "legendX": 21, "legendY": 12, "rowPadding": 4}}
      }
     }
    ]
   },
   {
    "width": 563, "height": 336,
    "encoding": {
      "x": {"field": "x", "type": "quantitative", "scale": {"domain": [1, 6], "nice": false, "zero": false}, "axis": {"values": [1,2,3,4,5,6], "format": "d", "title": "CaO (wt%)", "titleX": 559, "titleY": -24, "titleAlign": "right", "titleBaseline": "middle"}},
      "y": {"field": "y", "type": "quantitative", "scale": {"domain": [2.5, 6], "nice": false, "zero": false}, "axis": {"values": [2.5,3,3.5,4,4.5,5,5.5,6], "format": ".1f", "title": "Na₂O (wt%)", "titleFontSize": 21, "titleX": 25, "titleY": 8, "titleAngle": 270, "titleAlign": "right", "titleBaseline": "middle"}}
    },
    "layer": [
     {"data": {"values": [
{"s":"NYT - Campi Flegrei","x":1.88,"y":5.45},{"s":"NYT - Campi Flegrei","x":1.78,"y":5.08},{"s":"NYT - Campi Flegrei","x":2.04,"y":5.19},{"s":"NYT - Campi Flegrei","x":2.23,"y":4.86},{"s":"NYT - Campi Flegrei","x":2.15,"y":4.48},{"s":"NYT - Campi Flegrei","x":2.13,"y":4.32},{"s":"NYT - Campi Flegrei","x":2.17,"y":4.37},{"s":"NYT - Campi Flegrei","x":2.28,"y":4.31},{"s":"NYT - Campi Flegrei","x":2.37,"y":4.51},{"s":"NYT - Campi Flegrei","x":2.21,"y":4.6},{"s":"NYT - Campi Flegrei","x":2.56,"y":4.12},{"s":"NYT - Campi Flegrei","x":2.54,"y":4.01},{"s":"NYT - Campi Flegrei","x":2.5,"y":3.84},{"s":"NYT - Campi Flegrei","x":2.58,"y":3.76},{"s":"NYT - Campi Flegrei","x":2.6,"y":3.63},{"s":"NYT - Campi Flegrei","x":2.63,"y":3.69},{"s":"NYT - Campi Flegrei","x":2.8,"y":3.74},{"s":"NYT - Campi Flegrei","x":2.82,"y":3.7},{"s":"NYT - Campi Flegrei","x":2.76,"y":3.46},{"s":"NYT - Campi Flegrei","x":2.91,"y":3.62},{"s":"NYT - Campi Flegrei","x":3.15,"y":3.6},{"s":"NYT - Campi Flegrei","x":3.15,"y":3.48},{"s":"NYT - Campi Flegrei","x":3.13,"y":3.22},{"s":"NYT - Campi Flegrei","x":3.28,"y":3.48},{"s":"NYT - Campi Flegrei","x":3.37,"y":3.7},{"s":"NYT - Campi Flegrei","x":3.4,"y":3.46},{"s":"NYT - Campi Flegrei","x":3.47,"y":3.7},{"s":"NYT - Campi Flegrei","x":3.57,"y":3.43},{"s":"NYT - Campi Flegrei","x":3.55,"y":3.24},{"s":"NYT - Campi Flegrei","x":3.61,"y":3.33},{"s":"NYT - Campi Flegrei","x":3.75,"y":3.92},{"s":"NYT - Campi Flegrei","x":3.89,"y":3.72},{"s":"NYT - Campi Flegrei","x":3.97,"y":3.93},{"s":"NYT - Campi Flegrei","x":3.91,"y":2.91},{"s":"NYT - Campi Flegrei","x":4.2,"y":3.63},{"s":"NYT - Campi Flegrei","x":4.21,"y":3.51},{"s":"NYT - Campi Flegrei","x":4.29,"y":3.84},{"s":"NYT - Campi Flegrei","x":4.29,"y":3.67},{"s":"NYT - Campi Flegrei","x":4.38,"y":3.6},{"s":"NYT - Campi Flegrei","x":4.44,"y":3.79},{"s":"NYT - Campi Flegrei","x":4.45,"y":3.55},{"s":"NYT - Campi Flegrei","x":4.53,"y":3.45},{"s":"NYT - Campi Flegrei","x":4.55,"y":3.17},{"s":"NYT - Campi Flegrei","x":4.66,"y":3.43},{"s":"NYT - Campi Flegrei","x":4.77,"y":3.43},{"s":"NYT - Campi Flegrei","x":4.9,"y":3.45},{"s":"NYT - Campi Flegrei","x":5.04,"y":3.48},{"s":"NYT - Campi Flegrei","x":5.08,"y":3.46},{"s":"NYT - Campi Flegrei","x":5.12,"y":3.36},{"s":"NYT - Campi Flegrei","x":5.01,"y":3.38},
{"s":"NYT - Matese","x":2.33,"y":3.88},{"s":"NYT - Matese","x":2.47,"y":3.74},{"s":"NYT - Matese","x":2.52,"y":3.67},{"s":"NYT - Matese","x":2.74,"y":3.86},{"s":"NYT - Matese","x":2.69,"y":3.12},{"s":"NYT - Matese","x":2.83,"y":3.02},{"s":"NYT - Matese","x":2.95,"y":3.02},{"s":"NYT - Matese","x":3.38,"y":3.38},{"s":"NYT - Matese","x":4.07,"y":3.84},{"s":"NYT - Matese","x":4.39,"y":3.38},{"s":"NYT - Matese","x":4.64,"y":3.65},{"s":"NYT - Matese","x":4.64,"y":3.39},{"s":"NYT - Matese","x":4.95,"y":3.41},{"s":"NYT - Matese","x":4.97,"y":3.33},{"s":"NYT - Matese","x":5.0,"y":3.14},{"s":"NYT - Matese","x":5.06,"y":3.17},{"s":"NYT - Matese","x":5.12,"y":3.22},{"s":"NYT - Matese","x":5.25,"y":3.31},{"s":"NYT - Matese","x":5.26,"y":3.21},{"s":"NYT - Matese","x":5.34,"y":3.22},{"s":"NYT - Matese","x":5.41,"y":3.22},{"s":"NYT - Matese","x":5.48,"y":3.21},{"s":"NYT - Matese","x":5.54,"y":3.17},{"s":"NYT - Matese","x":5.58,"y":3.19},{"s":"NYT - Matese","x":5.63,"y":3.19},{"s":"NYT - Matese","x":5.67,"y":3.27},{"s":"NYT - Matese","x":5.67,"y":3.1},{"s":"NYT - Matese","x":2.3,"y":4.48},{"s":"NYT - Matese","x":2.24,"y":4.41},{"s":"NYT - Matese","x":2.35,"y":4.36},
{"s":"Pre-NYT - Tufi Biancastri","x":2.06,"y":4.75},{"s":"Pre-NYT - Tufi Biancastri","x":2.1,"y":4.79},{"s":"Pre-NYT - Tufi Biancastri","x":2.12,"y":4.7},{"s":"Pre-NYT - Tufi Biancastri","x":2.17,"y":4.74},{"s":"Pre-NYT - Tufi Biancastri","x":2.26,"y":4.7},{"s":"Pre-NYT - Tufi Biancastri","x":2.28,"y":4.72},{"s":"Pre-NYT - Tufi Biancastri","x":2.32,"y":4.65},{"s":"Pre-NYT - Tufi Biancastri","x":2.34,"y":4.6},{"s":"Pre-NYT - Tufi Biancastri","x":2.13,"y":4.68},
{"s":"TF-2","x":2.23,"y":4.72},{"s":"TF-2","x":2.24,"y":4.65},{"s":"TF-2","x":2.26,"y":4.58},{"s":"TF-2","x":2.23,"y":4.51},{"s":"TF-2","x":2.25,"y":4.44},{"s":"TF-2","x":2.24,"y":4.37},{"s":"TF-2","x":2.65,"y":3.82},{"s":"TF-2","x":2.68,"y":3.96},{"s":"TF-2","x":2.91,"y":3.67},{"s":"TF-2","x":4.21,"y":3.62},{"s":"TF-2","x":4.23,"y":3.59},{"s":"TF-2","x":4.33,"y":3.27},{"s":"TF-2","x":4.51,"y":3.5},{"s":"TF-2","x":4.53,"y":3.33},{"s":"TF-2","x":4.53,"y":3.24},{"s":"TF-2","x":4.71,"y":3.36},{"s":"TF-2","x":4.84,"y":3.41},{"s":"TF-2","x":4.82,"y":3.29},{"s":"TF-2","x":4.93,"y":3.31},{"s":"TF-2","x":4.95,"y":3.24},{"s":"TF-2","x":4.95,"y":3.21},{"s":"TF-2","x":5.04,"y":3.34},{"s":"TF-2","x":5.27,"y":3.41}
      ]},
      "mark": {"type": "point", "filled": false, "strokeWidth": 1.6, "size": 150},
      "encoding": {
        "color": {"field": "s", "type": "nominal", "scale": {"domain": ["TF-2","NYT - Campi Flegrei","NYT - Matese","Pre-NYT - Tufi Biancastri"], "range": ["#e8202a","#e8c030","#22a060","#2222cc"]}, "legend": null},
        "shape": {"field": "s", "type": "nominal", "scale": {"domain": ["TF-2","NYT - Campi Flegrei","NYT - Matese","Pre-NYT - Tufi Biancastri"], "range": ["M-1,0L1,0M0,-1L0,1","circle","M-0.8,-0.8L0.8,0.8M-0.8,0.8L0.8,-0.8","square"]}, "legend": null}
      }
     }
    ]
   }
  ]
 },
 {
  "spacing": 3,
  "resolve": {"scale": {"x": "independent", "y": "independent", "color": "independent", "shape": "independent"}},
  "vconcat": [
   {
    "title": {"text": "(c) Campi Flegrei TF-6 (pre-CI)", "dx": -82, "offset": 7},
    "spacing": 68, "bounds": "flush",
    "resolve": {"scale": {"x": "independent", "y": "independent", "color": "independent", "shape": "independent"}},
    "hconcat": [
     {
      "width": 557, "height": 329,
      "encoding": {
        "x": {"field": "x", "type": "quantitative", "scale": {"domain": [54, 64], "nice": false, "zero": false}, "axis": {"values": [54,56,58,60,62,64], "format": "d", "title": "SiO₂ (wt%)", "titleX": 541, "titleY": -22, "titleAlign": "right", "titleBaseline": "middle"}},
        "y": {"field": "y", "type": "quantitative", "scale": {"domain": [11, 17], "nice": false, "zero": false}, "axis": {"values": [11,12,13,14,15,16,17], "format": "d", "title": "Na₂O + K₂O (wt%)", "titleFontSize": 23, "titleX": -58, "titleY": 164, "titleAngle": 270, "titleAlign": "center", "titleBaseline": "middle"}}
      },
      "layer": [
       {"data": {"name": "tas"}, "mark": {"type": "line", "clip": true, "color": "#c8c8c8", "strokeWidth": 2.5}, "encoding": {"detail": {"field": "seg"}, "order": {"field": "o", "type": "quantitative"}}},
       {"data": {"values": [{"label": "Phonolite", "x": 56.75, "y": 14.11}]},
        "mark": {"type": "text", "color": "#c8c8c8", "fontSize": 18, "fontStyle": "italic", "fontWeight": "bold"}, "encoding": {"text": {"field": "label"}}},
       {"data": {"values": [
{"s":"Pre-CI Tlc - Campi Flegrei","x":58.92,"y":14.63},{"s":"Pre-CI Tlc - Campi Flegrei","x":58.9,"y":14.32},{"s":"Pre-CI Tlc - Campi Flegrei","x":58.82,"y":13.93},{"s":"Pre-CI Tlc - Campi Flegrei","x":59.23,"y":14.57},{"s":"Pre-CI Tlc - Campi Flegrei","x":59.31,"y":14.48},{"s":"Pre-CI Tlc - Campi Flegrei","x":59.38,"y":14.63},{"s":"Pre-CI Tlc - Campi Flegrei","x":59.51,"y":14.78},{"s":"Pre-CI Tlc - Campi Flegrei","x":59.46,"y":14.51},{"s":"Pre-CI Tlc - Campi Flegrei","x":59.8,"y":14.63},{"s":"Pre-CI Tlc - Campi Flegrei","x":59.89,"y":14.51},{"s":"Pre-CI Tlc - Campi Flegrei","x":60.02,"y":14.87},{"s":"Pre-CI Tlc - Campi Flegrei","x":60.13,"y":14.81},{"s":"Pre-CI Tlc - Campi Flegrei","x":60.55,"y":14.81},{"s":"Pre-CI Tlc - Campi Flegrei","x":60.85,"y":14.72},{"s":"Pre-CI Tlc - Campi Flegrei","x":61.11,"y":14.91},{"s":"Pre-CI Tlc - Campi Flegrei","x":61.3,"y":14.81},{"s":"Pre-CI Tlc - Campi Flegrei","x":61.48,"y":14.94},{"s":"Pre-CI Tlc - Campi Flegrei","x":61.82,"y":14.7},
{"s":"Pre-CI Tla - Campi Flegrei","x":58.56,"y":14.29},{"s":"Pre-CI Tla - Campi Flegrei","x":59.08,"y":14.18},{"s":"Pre-CI Tla - Campi Flegrei","x":59.42,"y":14.33},{"s":"Pre-CI Tla - Campi Flegrei","x":59.68,"y":14.63},{"s":"Pre-CI Tla - Campi Flegrei","x":59.8,"y":14.39},{"s":"Pre-CI Tla - Campi Flegrei","x":59.91,"y":14.06},{"s":"Pre-CI Tla - Campi Flegrei","x":60.25,"y":14.48},{"s":"Pre-CI Tla - Campi Flegrei","x":60.36,"y":14.63},{"s":"Pre-CI Tla - Campi Flegrei","x":60.4,"y":14.9},{"s":"Pre-CI Tla - Campi Flegrei","x":60.55,"y":14.57},{"s":"Pre-CI Tla - Campi Flegrei","x":60.77,"y":14.54},{"s":"Pre-CI Tla - Campi Flegrei","x":60.92,"y":14.69},{"s":"Pre-CI Tla - Campi Flegrei","x":61.18,"y":14.57},{"s":"Pre-CI Tla - Campi Flegrei","x":61.26,"y":14.78},{"s":"Pre-CI Tla - Campi Flegrei","x":61.3,"y":14.75},{"s":"Pre-CI Tla - Campi Flegrei","x":61.6,"y":14.39},{"s":"Pre-CI Tla - Campi Flegrei","x":61.91,"y":14.9},{"s":"Pre-CI Tla - Campi Flegrei","x":60.2,"y":14.33},
{"s":"Pre-CI Tlf - Campi Flegrei","x":58.9,"y":13.81},{"s":"Pre-CI Tlf - Campi Flegrei","x":59.35,"y":14.01},{"s":"Pre-CI Tlf - Campi Flegrei","x":59.68,"y":14.32},{"s":"Pre-CI Tlf - Campi Flegrei","x":59.68,"y":13.83},{"s":"Pre-CI Tlf - Campi Flegrei","x":59.82,"y":14.3},{"s":"Pre-CI Tlf - Campi Flegrei","x":59.87,"y":13.72},{"s":"Pre-CI Tlf - Campi Flegrei","x":60.1,"y":14.07},{"s":"Pre-CI Tlf - Campi Flegrei","x":60.13,"y":13.66},{"s":"Pre-CI Tlf - Campi Flegrei","x":60.31,"y":13.95},{"s":"Pre-CI Tlf - Campi Flegrei","x":60.38,"y":14.13},{"s":"Pre-CI Tlf - Campi Flegrei","x":60.47,"y":14.3},{"s":"Pre-CI Tlf - Campi Flegrei","x":60.55,"y":13.9},{"s":"Pre-CI Tlf - Campi Flegrei","x":60.62,"y":14.1},{"s":"Pre-CI Tlf - Campi Flegrei","x":60.79,"y":14.09},{"s":"Pre-CI Tlf - Campi Flegrei","x":60.92,"y":13.99},{"s":"Pre-CI Tlf - Campi Flegrei","x":61.21,"y":14.38},{"s":"Pre-CI Tlf - Campi Flegrei","x":61.26,"y":14.12},{"s":"Pre-CI Tlf - Campi Flegrei","x":61.3,"y":13.96},{"s":"Pre-CI Tlf - Campi Flegrei","x":61.31,"y":14.06},{"s":"Pre-CI Tlf - Campi Flegrei","x":61.48,"y":14.38},{"s":"Pre-CI Tlf - Campi Flegrei","x":61.67,"y":14.02},{"s":"Pre-CI Tlf - Campi Flegrei","x":61.79,"y":14.24},{"s":"Pre-CI Tlf - Campi Flegrei","x":62.63,"y":14.38},
{"s":"TF-6","x":55.28,"y":12.12},{"s":"TF-6","x":55.38,"y":12.32},{"s":"TF-6","x":56.6,"y":12.88},{"s":"TF-6","x":56.68,"y":12.68},{"s":"TF-6","x":57.68,"y":12.66},{"s":"TF-6","x":59.12,"y":14.27},{"s":"TF-6","x":59.5,"y":13.63},{"s":"TF-6","x":60.08,"y":14.26},{"s":"TF-6","x":60.51,"y":14.33},{"s":"TF-6","x":60.55,"y":14.12},{"s":"TF-6","x":60.58,"y":13.96},{"s":"TF-6","x":60.73,"y":13.9},{"s":"TF-6","x":60.81,"y":13.99},{"s":"TF-6","x":61.0,"y":13.87},{"s":"TF-6","x":61.4,"y":13.78},{"s":"TF-6","x":60.1,"y":14.09}
        ]},
        "mark": {"type": "point", "filled": false, "strokeWidth": 1.6, "size": 150},
        "encoding": {
          "color": {"field": "s", "type": "nominal", "scale": {"domain": ["TF-6","Pre-CI Tlf - Campi Flegrei","Pre-CI Tlc - Campi Flegrei","Pre-CI Tla - Campi Flegrei"], "range": ["#e8202a","#2222cc","#f0a050","#33a868"]}, "legend": {"title": null, "orient": "none", "legendX": 31, "legendY": 14, "rowPadding": 0}},
          "shape": {"field": "s", "type": "nominal", "scale": {"domain": ["TF-6","Pre-CI Tlf - Campi Flegrei","Pre-CI Tlc - Campi Flegrei","Pre-CI Tla - Campi Flegrei"], "range": ["M-1,0L1,0M0,-1L0,1","circle","circle","circle"]}, "legend": {"title": null, "orient": "none", "legendX": 31, "legendY": 14, "rowPadding": 0}}
        }
       }
      ]
     },
     {
      "width": 563, "height": 329,
      "encoding": {
        "x": {"field": "x", "type": "quantitative", "scale": {"domain": [1, 6], "nice": false, "zero": false}, "axis": {"values": [1,2,3,4,5,6], "format": "d", "title": "CaO (wt%)", "titleX": 559, "titleY": -24, "titleAlign": "right", "titleBaseline": "middle"}},
        "y": {"field": "y", "type": "quantitative", "scale": {"domain": [4, 8], "nice": false, "zero": false}, "axis": {"values": [4,5,6,7,8], "format": "d", "title": "Na₂O (wt%)", "titleFontSize": 21, "titleX": 25, "titleY": 8, "titleAngle": 270, "titleAlign": "right", "titleBaseline": "middle"}}
      },
      "layer": [
       {"data": {"values": [
{"s":"Pre-CI Tlf - Campi Flegrei","x":2.02,"y":6.21},{"s":"Pre-CI Tlf - Campi Flegrei","x":2.14,"y":6.27},{"s":"Pre-CI Tlf - Campi Flegrei","x":2.11,"y":6.17},{"s":"Pre-CI Tlf - Campi Flegrei","x":2.06,"y":6.09},{"s":"Pre-CI Tlf - Campi Flegrei","x":2.19,"y":6.09},{"s":"Pre-CI Tlf - Campi Flegrei","x":2.0,"y":5.99},{"s":"Pre-CI Tlf - Campi Flegrei","x":2.09,"y":5.95},{"s":"Pre-CI Tlf - Campi Flegrei","x":2.19,"y":5.95},{"s":"Pre-CI Tlf - Campi Flegrei","x":2.24,"y":5.91},{"s":"Pre-CI Tlf - Campi Flegrei","x":2.02,"y":5.85},{"s":"Pre-CI Tlf - Campi Flegrei","x":2.11,"y":5.87},{"s":"Pre-CI Tlf - Campi Flegrei","x":2.21,"y":5.85},{"s":"Pre-CI Tlf - Campi Flegrei","x":2.07,"y":5.79},{"s":"Pre-CI Tlf - Campi Flegrei","x":2.15,"y":5.77},{"s":"Pre-CI Tlf - Campi Flegrei","x":2.22,"y":5.83},{"s":"Pre-CI Tlf - Campi Flegrei","x":2.05,"y":5.73},{"s":"Pre-CI Tlf - Campi Flegrei","x":2.13,"y":5.69},{"s":"Pre-CI Tlf - Campi Flegrei","x":2.17,"y":5.73},{"s":"Pre-CI Tlf - Campi Flegrei","x":2.34,"y":6.12},{"s":"Pre-CI Tlf - Campi Flegrei","x":2.04,"y":5.91},{"s":"Pre-CI Tlf - Campi Flegrei","x":2.27,"y":5.95},
{"s":"Pre-CI Tlc - Campi Flegrei","x":2.06,"y":7.25},{"s":"Pre-CI Tlc - Campi Flegrei","x":2.11,"y":7.17},{"s":"Pre-CI Tlc - Campi Flegrei","x":2.15,"y":7.09},{"s":"Pre-CI Tlc - Campi Flegrei","x":2.21,"y":7.13},{"s":"Pre-CI Tlc - Campi Flegrei","x":2.26,"y":7.15},{"s":"Pre-CI Tlc - Campi Flegrei","x":2.32,"y":7.05},{"s":"Pre-CI Tlc - Campi Flegrei","x":2.22,"y":6.92},{"s":"Pre-CI Tlc - Campi Flegrei","x":2.09,"y":7.03},{"s":"Pre-CI Tlc - Campi Flegrei","x":2.0,"y":7.21},{"s":"Pre-CI Tlc - Campi Flegrei","x":2.17,"y":7.0},{"s":"Pre-CI Tlc - Campi Flegrei","x":2.04,"y":7.05},{"s":"Pre-CI Tlc - Campi Flegrei","x":1.93,"y":6.9},
{"s":"Pre-CI Tla - Campi Flegrei","x":1.65,"y":7.15},{"s":"Pre-CI Tla - Campi Flegrei","x":1.95,"y":7.14},{"s":"Pre-CI Tla - Campi Flegrei","x":2.16,"y":7.3},{"s":"Pre-CI Tla - Campi Flegrei","x":1.83,"y":6.88},{"s":"Pre-CI Tla - Campi Flegrei","x":1.91,"y":6.98},{"s":"Pre-CI Tla - Campi Flegrei","x":1.98,"y":6.94},{"s":"Pre-CI Tla - Campi Flegrei","x":2.02,"y":6.92},{"s":"Pre-CI Tla - Campi Flegrei","x":2.07,"y":6.93},{"s":"Pre-CI Tla - Campi Flegrei","x":2.13,"y":6.98},{"s":"Pre-CI Tla - Campi Flegrei","x":2.06,"y":6.62},{"s":"Pre-CI Tla - Campi Flegrei","x":2.11,"y":7.05},{"s":"Pre-CI Tla - Campi Flegrei","x":2.0,"y":7.05},{"s":"Pre-CI Tla - Campi Flegrei","x":2.15,"y":6.92},{"s":"Pre-CI Tla - Campi Flegrei","x":1.96,"y":6.86},{"s":"Pre-CI Tla - Campi Flegrei","x":2.07,"y":6.84},
{"s":"TF-6","x":2.16,"y":7.55},{"s":"TF-6","x":1.72,"y":7.01},{"s":"TF-6","x":1.84,"y":6.73},{"s":"TF-6","x":1.87,"y":6.7},{"s":"TF-6","x":1.88,"y":6.75},{"s":"TF-6","x":1.94,"y":6.57},{"s":"TF-6","x":1.97,"y":6.7},{"s":"TF-6","x":2.07,"y":6.78},{"s":"TF-6","x":2.42,"y":6.35},{"s":"TF-6","x":3.74,"y":5.44},{"s":"TF-6","x":3.87,"y":5.58},{"s":"TF-6","x":4.92,"y":6.06},{"s":"TF-6","x":5.07,"y":4.97},{"s":"TF-6","x":5.07,"y":4.77}
        ]},
        "mark": {"type": "point", "filled": false, "strokeWidth": 1.6, "size": 150},
        "encoding": {
          "color": {"field": "s", "type": "nominal", "scale": {"domain": ["TF-6","Pre-CI Tlf - Campi Flegrei","Pre-CI Tlc - Campi Flegrei","Pre-CI Tla - Campi Flegrei"], "range": ["#e8202a","#2222cc","#f0a050","#33a868"]}, "legend": null},
          "shape": {"field": "s", "type": "nominal", "scale": {"domain": ["TF-6","Pre-CI Tlf - Campi Flegrei","Pre-CI Tlc - Campi Flegrei","Pre-CI Tla - Campi Flegrei"], "range": ["M-1,0L1,0M0,-1L0,1","circle","circle","circle"]}, "legend": null}
        }
       }
      ]
     }
    ]
   },
   {
    "title": {"text": "(d) Campi Flegrei (?) TF-10 (POP1/C-22)", "dx": -82, "offset": 6},
    "spacing": 68, "bounds": "flush",
    "resolve": {"scale": {"x": "independent", "y": "independent", "color": "independent", "shape": "independent"}},
    "hconcat": [
     {
      "width": 557, "height": 362,
      "encoding": {
        "x": {"field": "x", "type": "quantitative", "scale": {"domain": [55, 65], "nice": false, "zero": false}, "axis": {"values": [55,57,59,61,63,65], "format": "d", "title": "SiO₂ (wt%)", "titleX": 541, "titleY": -22, "titleAlign": "right", "titleBaseline": "middle"}},
        "y": {"field": "y", "type": "quantitative", "scale": {"domain": [8, 16], "nice": false, "zero": false}, "axis": {"values": [8,9,10,11,12,13,14,15,16], "format": "d", "title": "Na₂O + K₂O (wt%)", "titleFontSize": 23, "titleX": -58, "titleY": 181, "titleAngle": 270, "titleAlign": "center", "titleBaseline": "middle"}}
      },
      "layer": [
       {"data": {"name": "tas"}, "mark": {"type": "line", "clip": true, "color": "#c8c8c8", "strokeWidth": 2.5}, "encoding": {"detail": {"field": "seg"}, "order": {"field": "o", "type": "quantitative"}}},
       {"data": {"values": [{"label": "Phonolite", "x": 57.53, "y": 13.65}, {"label": "Trachyte", "x": 61.63, "y": 10.14}]},
        "mark": {"type": "text", "color": "#c8c8c8", "fontSize": 18, "fontStyle": "italic", "fontWeight": "bold"}, "encoding": {"text": {"field": "label"}}},
       {"data": {"values": [
{"s":"Adriatic Sea PRAD-2517 (C-22)","x":58.7,"y":13.08},{"s":"Adriatic Sea PRAD-2517 (C-22)","x":59.08,"y":13.35},{"s":"Adriatic Sea PRAD-2517 (C-22)","x":59.15,"y":13.19},{"s":"Adriatic Sea PRAD-2517 (C-22)","x":59.3,"y":13.47},{"s":"Adriatic Sea PRAD-2517 (C-22)","x":59.38,"y":13.27},{"s":"Adriatic Sea PRAD-2517 (C-22)","x":59.49,"y":13.35},{"s":"Adriatic Sea PRAD-2517 (C-22)","x":59.57,"y":13.5},{"s":"Adriatic Sea PRAD-2517 (C-22)","x":59.64,"y":13.31},{"s":"Adriatic Sea PRAD-2517 (C-22)","x":59.72,"y":13.58},{"s":"Adriatic Sea PRAD-2517 (C-22)","x":59.79,"y":13.43},{"s":"Adriatic Sea PRAD-2517 (C-22)","x":59.83,"y":13.23},{"s":"Adriatic Sea PRAD-2517 (C-22)","x":59.91,"y":13.62},{"s":"Adriatic Sea PRAD-2517 (C-22)","x":59.94,"y":13.47},{"s":"Adriatic Sea PRAD-2517 (C-22)","x":59.91,"y":13.97},{"s":"Adriatic Sea PRAD-2517 (C-22)","x":60.02,"y":13.31},{"s":"Adriatic Sea PRAD-2517 (C-22)","x":60.09,"y":13.54},{"s":"Adriatic Sea PRAD-2517 (C-22)","x":60.17,"y":13.39},{"s":"Adriatic Sea PRAD-2517 (C-22)","x":60.25,"y":13.43},{"s":"Adriatic Sea PRAD-2517 (C-22)","x":60.43,"y":13.39},{"s":"Adriatic Sea PRAD-2517 (C-22)","x":61.21,"y":12.65},{"s":"Adriatic Sea PRAD-2517 (C-22)","x":60.87,"y":11.49},{"s":"Adriatic Sea PRAD-2517 (C-22)","x":60.4,"y":12.38},{"s":"Adriatic Sea PRAD-2517 (C-22)","x":59.57,"y":12.92},{"s":"Adriatic Sea PRAD-2517 (C-22)","x":59.34,"y":13.0},{"s":"Adriatic Sea PRAD-2517 (C-22)","x":59.72,"y":13.0},{"s":"Adriatic Sea PRAD-2517 (C-22)","x":59.19,"y":13.08},{"s":"Adriatic Sea PRAD-2517 (C-22)","x":59.49,"y":13.08},{"s":"Adriatic Sea PRAD-2517 (C-22)","x":59.6,"y":13.7},{"s":"Adriatic Sea PRAD-2517 (C-22)","x":59.4,"y":13.6},
{"s":"Sulmona POP1 (C-22)","x":58.76,"y":11.41},{"s":"Sulmona POP1 (C-22)","x":59.23,"y":12.9},{"s":"Sulmona POP1 (C-22)","x":59.32,"y":12.57},{"s":"Sulmona POP1 (C-22)","x":59.57,"y":12.69},{"s":"Sulmona POP1 (C-22)","x":59.64,"y":12.92},{"s":"Sulmona POP1 (C-22)","x":59.72,"y":13.19},{"s":"Sulmona POP1 (C-22)","x":59.75,"y":13.27},{"s":"Sulmona POP1 (C-22)","x":59.79,"y":12.69},{"s":"Sulmona POP1 (C-22)","x":59.81,"y":12.3},{"s":"Sulmona POP1 (C-22)","x":59.87,"y":12.96},{"s":"Sulmona POP1 (C-22)","x":59.94,"y":12.61},{"s":"Sulmona POP1 (C-22)","x":60.06,"y":13.27},{"s":"Sulmona POP1 (C-22)","x":60.09,"y":13.0},{"s":"Sulmona POP1 (C-22)","x":60.13,"y":12.69},{"s":"Sulmona POP1 (C-22)","x":60.17,"y":13.12},{"s":"Sulmona POP1 (C-22)","x":60.25,"y":12.81},{"s":"Sulmona POP1 (C-22)","x":60.32,"y":13.0},{"s":"Sulmona POP1 (C-22)","x":60.4,"y":12.69},{"s":"Sulmona POP1 (C-22)","x":60.43,"y":13.19},{"s":"Sulmona POP1 (C-22)","x":60.51,"y":12.92},{"s":"Sulmona POP1 (C-22)","x":60.58,"y":13.04},{"s":"Sulmona POP1 (C-22)","x":60.62,"y":13.27},{"s":"Sulmona POP1 (C-22)","x":60.66,"y":12.77},{"s":"Sulmona POP1 (C-22)","x":60.74,"y":12.65},{"s":"Sulmona POP1 (C-22)","x":60.81,"y":12.5},{"s":"Sulmona POP1 (C-22)","x":60.91,"y":12.83},{"s":"Sulmona POP1 (C-22)","x":60.66,"y":11.88},{"s":"Sulmona POP1 (C-22)","x":61.2,"y":11.93},{"s":"Sulmona POP1 (C-22)","x":61.78,"y":11.6},{"s":"Sulmona POP1 (C-22)","x":60.02,"y":12.38},{"s":"Sulmona POP1 (C-22)","x":60.28,"y":12.57},{"s":"Sulmona POP1 (C-22)","x":60.51,"y":12.69},
{"s":"TF-10","x":59.04,"y":12.63},{"s":"TF-10","x":59.1,"y":12.53},{"s":"TF-10","x":59.26,"y":12.38},{"s":"TF-10","x":59.45,"y":12.5},{"s":"TF-10","x":59.63,"y":12.44},{"s":"TF-10","x":59.78,"y":12.77},{"s":"TF-10","x":59.83,"y":12.57},{"s":"TF-10","x":59.94,"y":12.15},{"s":"TF-10","x":60.02,"y":12.69},{"s":"TF-10","x":60.13,"y":13.23},{"s":"TF-10","x":60.17,"y":12.92},{"s":"TF-10","x":60.36,"y":12.88},{"s":"TF-10","x":60.4,"y":12.84},{"s":"TF-10","x":59.98,"y":12.61}
        ]},
        "mark": {"type": "point", "filled": false, "strokeWidth": 1.6, "size": 150},
        "encoding": {
          "color": {"field": "s", "type": "nominal", "scale": {"domain": ["TF-10","Adriatic Sea PRAD-2517 (C-22)","Sulmona POP1 (C-22)"], "range": ["#e8202a","#9cc05a","#2222cc"]}, "legend": {"title": null, "orient": "none", "legendX": 35, "legendY": 8, "rowPadding": 1}},
          "shape": {"field": "s", "type": "nominal", "scale": {"domain": ["TF-10","Adriatic Sea PRAD-2517 (C-22)","Sulmona POP1 (C-22)"], "range": ["M-1,0L1,0M0,-1L0,1","circle","circle"]}, "legend": {"title": null, "orient": "none", "legendX": 35, "legendY": 8, "rowPadding": 1}}
        }
       }
      ]
     },
     {
      "width": 563, "height": 362,
      "encoding": {
        "x": {"field": "x", "type": "quantitative", "scale": {"domain": [2, 5], "nice": false, "zero": false}, "axis": {"values": [2,2.5,3,3.5,4,4.5,5], "format": "~g", "title": "CaO (wt%)", "titleX": 559, "titleY": -24, "titleAlign": "right", "titleBaseline": "middle"}},
        "y": {"field": "y", "type": "quantitative", "scale": {"domain": [0.4, 2], "nice": false, "zero": false}, "axis": {"values": [0.4,0.6,0.8,1.0,1.2,1.4,1.6,1.8,2.0], "format": ".1f", "title": "MgO (wt%)", "titleFontSize": 21, "titleX": 25, "titleY": 8, "titleAngle": 270, "titleAlign": "right", "titleBaseline": "middle"}}
      },
      "layer": [
       {"data": {"values": [
{"s":"Adriatic Sea PRAD-2517 (C-22)","x":2.35,"y":0.74},{"s":"Adriatic Sea PRAD-2517 (C-22)","x":2.48,"y":0.76},{"s":"Adriatic Sea PRAD-2517 (C-22)","x":2.56,"y":0.79},{"s":"Adriatic Sea PRAD-2517 (C-22)","x":2.56,"y":0.64},{"s":"Adriatic Sea PRAD-2517 (C-22)","x":2.6,"y":0.67},{"s":"Adriatic Sea PRAD-2517 (C-22)","x":2.57,"y":0.73},{"s":"Adriatic Sea PRAD-2517 (C-22)","x":2.62,"y":0.74},{"s":"Adriatic Sea PRAD-2517 (C-22)","x":2.65,"y":0.78},{"s":"Adriatic Sea PRAD-2517 (C-22)","x":2.67,"y":0.73},{"s":"Adriatic Sea PRAD-2517 (C-22)","x":2.68,"y":0.69},{"s":"Adriatic Sea PRAD-2517 (C-22)","x":2.7,"y":0.76},{"s":"Adriatic Sea PRAD-2517 (C-22)","x":2.72,"y":0.73},{"s":"Adriatic Sea PRAD-2517 (C-22)","x":2.74,"y":0.77},{"s":"Adriatic Sea PRAD-2517 (C-22)","x":2.76,"y":0.73},{"s":"Adriatic Sea PRAD-2517 (C-22)","x":2.79,"y":0.76},{"s":"Adriatic Sea PRAD-2517 (C-22)","x":2.81,"y":0.78},{"s":"Adriatic Sea PRAD-2517 (C-22)","x":2.83,"y":0.82},{"s":"Adriatic Sea PRAD-2517 (C-22)","x":2.88,"y":0.79},{"s":"Adriatic Sea PRAD-2517 (C-22)","x":2.94,"y":0.77},{"s":"Adriatic Sea PRAD-2517 (C-22)","x":2.99,"y":0.82},{"s":"Adriatic Sea PRAD-2517 (C-22)","x":3.06,"y":0.86},{"s":"Adriatic Sea PRAD-2517 (C-22)","x":3.1,"y":0.89},{"s":"Adriatic Sea PRAD-2517 (C-22)","x":3.17,"y":0.84},{"s":"Adriatic Sea PRAD-2517 (C-22)","x":3.19,"y":0.94},{"s":"Adriatic Sea PRAD-2517 (C-22)","x":3.27,"y":0.93},{"s":"Adriatic Sea PRAD-2517 (C-22)","x":3.33,"y":1.02},{"s":"Adriatic Sea PRAD-2517 (C-22)","x":3.35,"y":1.11},{"s":"Adriatic Sea PRAD-2517 (C-22)","x":3.42,"y":1.08},{"s":"Adriatic Sea PRAD-2517 (C-22)","x":3.53,"y":1.1},{"s":"Adriatic Sea PRAD-2517 (C-22)","x":2.64,"y":0.71},{"s":"Adriatic Sea PRAD-2517 (C-22)","x":2.74,"y":0.71},{"s":"Adriatic Sea PRAD-2517 (C-22)","x":2.97,"y":0.87},{"s":"Adriatic Sea PRAD-2517 (C-22)","x":2.92,"y":0.81},
{"s":"Sulmona POP1 (C-22)","x":4.62,"y":1.79},{"s":"Sulmona POP1 (C-22)","x":2.77,"y":0.94},{"s":"Sulmona POP1 (C-22)","x":2.77,"y":0.9},{"s":"Sulmona POP1 (C-22)","x":2.83,"y":0.86},{"s":"Sulmona POP1 (C-22)","x":2.85,"y":0.83},{"s":"Sulmona POP1 (C-22)","x":2.87,"y":0.72},{"s":"Sulmona POP1 (C-22)","x":2.89,"y":0.9},{"s":"Sulmona POP1 (C-22)","x":2.91,"y":0.79},{"s":"Sulmona POP1 (C-22)","x":2.92,"y":0.87},{"s":"Sulmona POP1 (C-22)","x":2.94,"y":0.83},{"s":"Sulmona POP1 (C-22)","x":2.97,"y":0.9},{"s":"Sulmona POP1 (C-22)","x":2.98,"y":0.86},{"s":"Sulmona POP1 (C-22)","x":3.0,"y":0.93},{"s":"Sulmona POP1 (C-22)","x":3.01,"y":0.82},{"s":"Sulmona POP1 (C-22)","x":3.03,"y":0.97},{"s":"Sulmona POP1 (C-22)","x":3.04,"y":0.94},{"s":"Sulmona POP1 (C-22)","x":3.06,"y":0.9},{"s":"Sulmona POP1 (C-22)","x":3.07,"y":0.8},{"s":"Sulmona POP1 (C-22)","x":3.09,"y":0.94},{"s":"Sulmona POP1 (C-22)","x":3.15,"y":0.92},{"s":"Sulmona POP1 (C-22)","x":3.17,"y":0.98},{"s":"Sulmona POP1 (C-22)","x":3.19,"y":0.96},{"s":"Sulmona POP1 (C-22)","x":3.2,"y":0.88},{"s":"Sulmona POP1 (C-22)","x":3.25,"y":0.98},{"s":"Sulmona POP1 (C-22)","x":3.28,"y":1.02},{"s":"Sulmona POP1 (C-22)","x":3.33,"y":1.06},{"s":"Sulmona POP1 (C-22)","x":3.36,"y":1.04},{"s":"Sulmona POP1 (C-22)","x":3.34,"y":0.97},{"s":"Sulmona POP1 (C-22)","x":3.4,"y":0.97},{"s":"Sulmona POP1 (C-22)","x":3.42,"y":1.05},{"s":"Sulmona POP1 (C-22)","x":3.42,"y":1.16},{"s":"Sulmona POP1 (C-22)","x":3.46,"y":1.16},{"s":"Sulmona POP1 (C-22)","x":2.88,"y":0.86},{"s":"Sulmona POP1 (C-22)","x":3.01,"y":0.89},{"s":"Sulmona POP1 (C-22)","x":2.91,"y":0.93},
{"s":"TF-10","x":2.79,"y":0.8},{"s":"TF-10","x":2.86,"y":0.73},{"s":"TF-10","x":2.96,"y":0.96},{"s":"TF-10","x":2.97,"y":0.84},{"s":"TF-10","x":3.1,"y":1.03},{"s":"TF-10","x":3.1,"y":0.92},{"s":"TF-10","x":3.16,"y":0.98},{"s":"TF-10","x":3.31,"y":1.1},{"s":"TF-10","x":3.34,"y":1.0},{"s":"TF-10","x":3.35,"y":0.99},{"s":"TF-10","x":3.46,"y":1.11},{"s":"TF-10","x":3.53,"y":1.12},{"s":"TF-10","x":3.46,"y":1.15}
        ]},
        "mark": {"type": "point", "filled": false, "strokeWidth": 1.6, "size": 150},
        "encoding": {
          "color": {"field": "s", "type": "nominal", "scale": {"domain": ["TF-10","Adriatic Sea PRAD-2517 (C-22)","Sulmona POP1 (C-22)"], "range": ["#e8202a","#9cc05a","#2222cc"]}, "legend": null},
          "shape": {"field": "s", "type": "nominal", "scale": {"domain": ["TF-10","Adriatic Sea PRAD-2517 (C-22)","Sulmona POP1 (C-22)"], "range": ["M-1,0L1,0M0,-1L0,1","circle","circle"]}, "legend": null}
        }
       }
      ]
     }
    ]
   }
  ]
 }
  ]
 }
],
"spacing": 15,
"resolve": {"scale": {"x": "independent", "y": "independent", "color": "independent", "shape": "independent"}}
}
